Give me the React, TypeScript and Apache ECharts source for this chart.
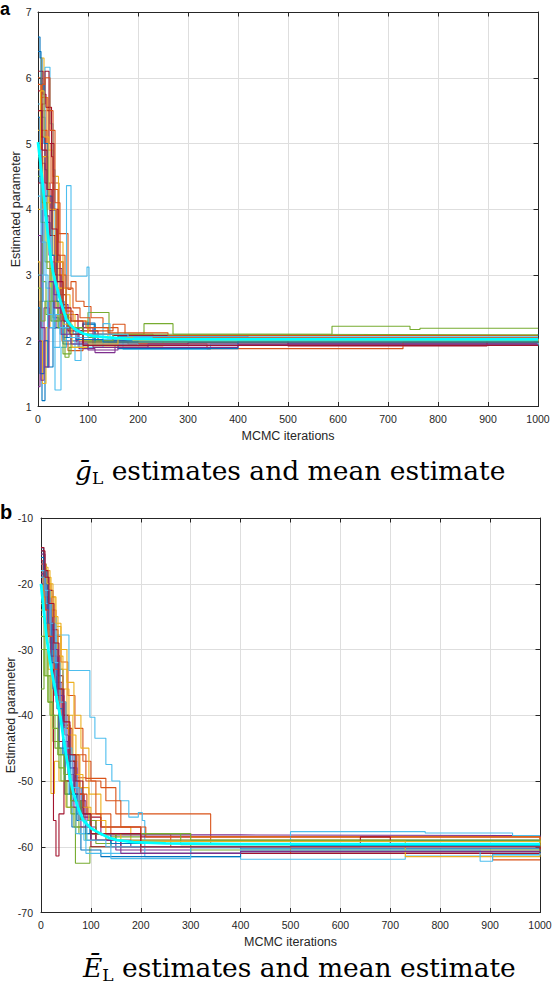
import React, { useEffect, useRef } from 'react';
import * as echarts from 'echarts';

// MATLAB default colour order
const traceColors = ['#0072BD', '#D95319', '#EDB120', '#7E2F8E', '#77AC30', '#4DBEEE', '#A2142F'];
const meanColor = '#00FFFF';

const xTickStep = 100;
const xMin = 0;
const xMax = 1000;
const gYMin = 1;
const gYMax = 7;
const eYMin = -70;
const eYMax = -10;

// ---- panel a : g_L estimates (x = iteration, y = estimate), stair-step traces ----
const gL01 = [[0, 6.62], [4, 6.3], [8, 5.4], [14, 4.6], [18, 3.8], [24, 2.9], [30, 2.35], [42, 2.2], [70, 2.1], [160, 2.06], [420, 2.08], [1000, 2.1]];
const gL02 = [[0, 5.9], [6, 5.5], [16, 5.0], [26, 4.4], [42, 3.63], [60, 2.78], [66, 2.9], [76, 2.6], [92, 2.52], [106, 2.35], [130, 2.2], [160, 2.05], [600, 2.03], [1000, 2.04]];
const gL03 = [[0, 5.2], [7, 6.3], [12, 5.7], [20, 4.9], [30, 4.5], [41, 3.5], [50, 2.7], [64, 2.3], [100, 2.1], [140, 1.97], [400, 1.95], [1000, 1.97]];
const gL04 = [[0, 1.3], [4, 2.6], [10, 4.2], [24, 3.98], [37, 3.1], [48, 2.55], [60, 2.2], [82, 1.88], [114, 1.82], [154, 1.93], [500, 1.96], [1000, 1.96]];
const gL05 = [[0, 4.5], [6, 3.8], [14, 3.2], [26, 2.6], [40, 2.3], [62, 2.1], [100, 2.43], [142, 2.1], [212, 2.26], [270, 2.1], [588, 2.22], [744, 2.17], [764, 2.19], [1000, 2.19]];
const gL06 = [[0, 5.6], [8, 5.2], [14, 6.16], [24, 5.3], [30, 4.6], [34, 1.25], [46, 1.9], [57, 4.36], [66, 2.98], [98, 3.12], [102, 2.25], [112, 2.02], [170, 1.87], [345, 1.95], [1000, 2.03]];
const gL07 = [[0, 6.1], [10, 5.75], [16, 5.55], [27, 4.8], [30, 4.0], [36, 3.3], [44, 2.7], [56, 2.4], [80, 2.15], [120, 2.0], [500, 1.92], [898, 2.01], [1000, 2.01]];
const gL08 = [[0, 5.4], [4, 4.4], [8, 1.09], [14, 1.6], [20, 2.6], [32, 2.2], [50, 1.95], [90, 2.25], [114, 2.0], [200, 2.03], [1000, 2.05]];
const gL09 = [[0, 4.8], [8, 5.2], [18, 4.3], [28, 3.6], [36, 2.5], [48, 2.0], [60, 1.85], [90, 1.98], [180, 1.95], [338, 1.88], [730, 1.98], [1000, 1.98]];
const gL10 = [[0, 3.2], [4, 2.0], [9, 1.35], [16, 2.2], [24, 3.2], [36, 2.8], [46, 2.35], [66, 2.0], [110, 1.92], [250, 2.0], [1000, 2.01]];
const gL11 = [[0, 5.0], [6, 4.7], [14, 3.9], [22, 3.3], [32, 2.7], [44, 2.3], [58, 2.05], [76, 1.98], [200, 2.05], [1000, 2.06]];
const gL12 = [[0, 3.6], [8, 2.9], [16, 2.4], [30, 2.3], [50, 1.8], [66, 2.05], [90, 2.0], [150, 2.08], [1000, 2.07]];
const gL13 = [[0, 4.2], [6, 3.5], [16, 2.8], [26, 2.3], [44, 2.1], [80, 1.9], [130, 2.26], [144, 2.05], [300, 2.0], [1000, 2.02]];
const gL14 = [[0, 5.8], [6, 5.1], [14, 4.4], [24, 3.6], [34, 3.0], [46, 2.4], [60, 2.15], [90, 1.95], [300, 1.97], [1000, 1.99]];
const gL15 = [[0, 2.5], [4, 1.5], [12, 2.0], [20, 1.6], [30, 2.2], [50, 2.05], [90, 2.27], [114, 1.93], [160, 1.88], [400, 2.0], [1000, 2.0]];
const gL16 = [[0, 6.0], [6, 5.7], [18, 5.5], [30, 4.3], [40, 3.3], [54, 2.8], [70, 2.5], [84, 2.35], [104, 2.15], [150, 2.25], [174, 2.1], [230, 2.05], [1000, 2.05]];
const gL17 = [[0, 4.0], [10, 4.8], [20, 4.1], [30, 3.3], [40, 2.8], [56, 2.4], [74, 2.2], [100, 2.05], [190, 2.0], [1000, 2.03]];
const gL18 = [[0, 2.0], [6, 1.4], [12, 2.5], [22, 2.2], [36, 2.4], [52, 2.0], [80, 2.2], [110, 1.9], [220, 1.95], [1000, 1.95]];
const gL19 = [[0, 4.8], [8, 4.1], [18, 3.1], [28, 2.6], [40, 2.2], [54, 1.75], [62, 1.9], [100, 1.98], [1000, 2.0]];
const gL20 = [[0, 3.0], [10, 2.6], [20, 2.2], [34, 2.4], [50, 2.0], [74, 1.7], [86, 1.95], [200, 1.93], [1000, 1.97]];
const gL21 = [[0, 4.4], [8, 5.6], [14, 6.1], [22, 5.0], [32, 4.0], [40, 3.2], [50, 2.5], [66, 2.3], [90, 2.1], [150, 2.08], [1000, 2.08]];
const gL22 = [[0, 6.4], [6, 5.9], [12, 5.0], [20, 4.2], [28, 3.3], [38, 2.6], [52, 2.2], [76, 2.02], [130, 1.98], [1000, 1.98]];
const gL23 = [[0, 5.5], [8, 5.9], [14, 6.0], [24, 5.2], [34, 4.1], [44, 3.0], [56, 2.45], [70, 2.3], [96, 2.2], [140, 2.12], [260, 2.08], [1000, 2.08]];
const gL24 = [[0, 4.6], [5, 5.8], [12, 5.1], [22, 4.0], [36, 3.2], [50, 2.25], [68, 1.9], [100, 1.95], [160, 2.02], [1000, 2.02]];
const gL25 = [[0, 3.6], [6, 2.2], [14, 1.6], [22, 2.9], [32, 2.5], [46, 2.1], [66, 1.95], [100, 1.86], [160, 1.9], [400, 1.94], [1000, 1.94]];
const gL26 = [[0, 2.8], [6, 2.3], [14, 2.6], [26, 2.3], [44, 2.4], [60, 2.2], [90, 2.05], [150, 2.1], [300, 2.09], [1000, 2.09]];
const gL27 = [[0, 4.9], [6, 4.0], [12, 3.0], [20, 2.4], [30, 1.9], [44, 2.2], [64, 2.05], [100, 2.1], [180, 2.06], [1000, 2.05]];
const gL28 = [[0, 5.5], [8, 4.9], [18, 4.3], [28, 3.7], [38, 2.9], [50, 2.3], [64, 2.1], [90, 1.93], [300, 1.93], [1000, 1.94]];
const gLMean = [[0, 5.02], [5, 4.7], [10, 4.34], [15, 3.95], [20, 3.6], [25, 3.3], [30, 3.05], [35, 2.88], [40, 2.75], [45, 2.6], [50, 2.48], [57, 2.32], [65, 2.24], [75, 2.17], [90, 2.11], [110, 2.07], [140, 2.05], [180, 2.03], [250, 2.02], [400, 2.02], [600, 2.02], [800, 2.02], [1000, 2.02]];

// ---- panel b : E_L estimates ----
const eL01 = [[0, -14.5], [5, -17], [10, -21], [18, -26], [26, -30], [34, -36], [44, -42], [56, -48], [66, -53], [80, -56], [100, -59], [140, -60], [400, -60.3], [1000, -60.5]];
const eL02 = [[0, -17], [10, -20], [20, -24], [30, -28], [40, -31.9], [54, -37], [68, -42], [84, -47], [100, -50], [120, -51], [150, -55], [340, -59.5], [1000, -59.8]];
const eL03 = [[0, -18], [8, -17.5], [14, -19], [20, -22], [30, -26.5], [40, -30], [52, -35], [66, -40], [80, -45], [96, -52], [120, -57], [180, -59], [1000, -60]];
const eL04 = [[0, -15.5], [8, -22], [16, -27], [26, -31], [38, -38], [48, -43], [58, -47], [72, -52], [86, -55], [100, -58], [150, -60.5], [300, -61], [1000, -60.2]];
const eL05 = [[0, -36], [6, -30], [12, -34], [22, -40], [34, -46], [46, -50], [60, -54], [69, -62.5], [98, -60], [140, -58.5], [200, -59], [1000, -59.5]];
const eL06 = [[0, -21], [15, -25], [30, -27.8], [56, -33.2], [98, -40.3], [108, -43.5], [130, -47.5], [142, -50], [158, -53], [176, -55.5], [195, -54.8], [203, -56], [208, -61.5], [400, -61.9], [730, -61.4], [1000, -61.4]];
const eL07 = [[0, -16], [6, -19], [14, -24], [20, -30], [28, -37], [36, -44], [48, -50], [60, -53], [80, -55.5], [120, -57], [200, -58.5], [700, -58.5], [1000, -59]];
const eL08 = [[0, -19], [6, -23], [14, -28], [24, -36], [36, -45], [48, -52], [62, -57], [80, -60.5], [120, -61.5], [400, -61], [1000, -60.8]];
const eL09 = [[0, -20], [10, -22], [20, -29], [30, -35], [44, -41.5], [58, -47], [70, -49.5], [90, -50], [110, -55], [140, -58], [260, -60], [500, -61], [905, -62], [1000, -62]];
const eL10 = [[0, -23], [6, -26], [14, -33], [20, -51.9], [27, -47], [36, -50], [50, -54], [70, -57], [100, -58], [300, -58.5], [1000, -59.3]];
const eL11 = [[0, -18.5], [8, -23], [18, -29], [28, -35], [40, -40], [52, -46], [64, -50], [78, -54], [94, -56], [120, -58.2], [400, -58.3], [1000, -58.5]];
const eL12 = [[0, -25], [6, -30], [14, -38], [24, -44], [36, -48], [48, -52], [60, -55], [76, -58], [110, -59.5], [300, -60.5], [1000, -60.8]];
const eL13 = [[0, -22], [8, -26], [18, -30], [30, -38], [44, -46], [56, -52], [70, -58], [90, -61], [140, -61.8], [300, -60.2], [500, -57.7], [770, -57.9], [945, -58.3], [1000, -58.3]];
const eL14 = [[0, -16.5], [4, -22], [12, -28], [20, -33], [25, -56], [30, -61.4], [36, -55], [46, -50], [60, -52], [76, -56], [100, -60], [200, -61], [1000, -61.2]];
const eL15 = [[0, -15], [6, -18], [12, -23], [22, -28], [30, -33], [44, -40], [56, -46], [68, -51], [82, -55], [98, -58], [130, -59], [1000, -59.1]];
const eL16 = [[0, -21], [10, -24], [22, -30], [32, -36], [42, -42], [56, -47], [72, -46], [90, -49.6], [130, -53], [160, -57], [210, -58.5], [1000, -58.8]];
const eL17 = [[0, -17], [10, -18], [18, -22], [28, -26], [40, -33], [52, -40], [64, -46], [78, -51], [96, -56], [130, -59], [730, -61.5], [1000, -61]];
const eL18 = [[0, -20], [10, -24], [20, -31], [32, -37], [46, -42], [58, -48], [72, -53], [90, -57], [110, -59], [180, -60], [1000, -59.8]];
const eL19 = [[0, -28], [8, -34], [18, -40], [28, -45], [40, -50], [52, -54], [66, -57], [90, -59], [150, -58], [280, -59.7], [1000, -60.2]];
const eL20 = [[0, -19], [10, -23], [20, -28], [32, -34], [44, -42], [58, -49], [72, -55], [86, -59], [140, -61], [400, -60.5], [880, -62.2], [905, -61.2], [1000, -61]];
const eL21 = [[0, -14.5], [6, -18], [14, -21], [24, -27], [34, -34], [44, -40], [56, -47], [68, -52], [86, -56], [110, -59], [160, -60], [640, -58.5], [700, -59.5], [1000, -59.6]];
const eL22 = [[0, -16], [6, -20], [14, -26], [22, -32], [32, -39], [44, -46], [58, -52], [72, -56], [90, -58], [140, -59.5], [500, -59.8], [1000, -59.9]];
const eL23 = [[0, -22], [8, -24], [16, -28], [26, -33], [36, -38], [50, -42], [62, -46], [76, -52], [92, -55], [120, -57], [200, -60], [1000, -60.4]];
const eL24 = [[0, -24], [6, -19], [12, -20], [24, -25], [34, -31], [44, -36], [56, -43], [70, -49], [84, -54], [100, -58], [160, -59.2], [1000, -59.4]];
const eL25 = [[0, -17], [8, -21], [16, -26], [24, -30], [34, -37], [44, -44], [54, -49], [66, -54], [80, -57], [100, -59], [160, -61], [400, -60.7], [1000, -60.7]];
const eL26 = [[0, -30], [6, -34], [14, -38], [24, -42], [34, -46], [46, -49], [60, -53], [80, -56], [110, -58], [200, -58], [300, -59], [1000, -59.2]];
const eL27 = [[0, -18], [8, -21], [18, -26], [28, -32], [38, -38], [50, -45], [62, -51], [76, -56], [92, -59], [130, -60], [1000, -60.1]];
const eL28 = [[0, -15], [8, -19], [16, -23], [26, -29], [36, -36], [46, -41], [58, -46], [70, -50], [84, -55], [100, -58], [200, -60], [1000, -60.3]];
const eLMean = [[0, -20], [6, -24.5], [12, -28.6], [18, -31.8], [25, -34.7], [32, -37.6], [39, -40.3], [45, -43.5], [52, -46.8], [58, -49.5], [65, -51.9], [75, -54.2], [85, -56], [100, -57.2], [119, -58], [135, -58.6], [152, -59], [185, -59.3], [250, -59.5], [400, -59.6], [600, -59.6], [800, -59.6], [1000, -59.6]];

const gLTraces = [gL01, gL02, gL03, gL04, gL05, gL06, gL07, gL08, gL09, gL10, gL11, gL12, gL13, gL14, gL15, gL16, gL17, gL18, gL19, gL20, gL21, gL22, gL23, gL24, gL25, gL26, gL27, gL28];
const eLTraces = [eL01, eL02, eL03, eL04, eL05, eL06, eL07, eL08, eL09, eL10, eL11, eL12, eL13, eL14, eL15, eL16, eL17, eL18, eL19, eL20, eL21, eL22, eL23, eL24, eL25, eL26, eL27, eL28];

const axisName = 'Estimated parameter';
const xName = 'MCMC iterations';

const INK = '#262626';
const GRIDC = '#dedede';
const SANS = '"Liberation Sans", Arial, Helvetica, sans-serif';
const SERIF = '"DejaVu Serif", "Liberation Serif", serif';

const plainNum = (v: number) => String(v);

function xAxisCfg(gridIndex: number, main: boolean) {
  return {
    type: 'value',
    gridIndex,
    position: main ? 'bottom' : 'top',
    min: xMin,
    max: xMax,
    interval: xTickStep,
    name: main ? xName : '',
    nameLocation: 'middle',
    nameGap: 23,
    nameMoveOverlap: false,
    nameTextStyle: { fontSize: 12.5, color: INK, fontFamily: SANS },
    axisLine: { show: true, onZero: false, lineStyle: { color: INK, width: 1 } },
    axisTick: { show: true, inside: true, length: 4.5, lineStyle: { color: INK, width: 1 } },
    axisLabel: { show: main, fontSize: 10.5, color: INK, fontFamily: SANS, margin: 7, formatter: plainNum },
    splitLine: { show: main, lineStyle: { color: GRIDC, width: 1 } },
  };
}

function yAxisCfg(gridIndex: number, main: boolean, min: number, max: number, interval: number, gap: number, margin: number) {
  return {
    type: 'value',
    gridIndex,
    position: main ? 'left' : 'right',
    min,
    max,
    interval,
    name: main ? axisName : '',
    nameLocation: 'middle',
    nameGap: gap,
    nameMoveOverlap: false,
    nameTextStyle: { fontSize: 12.5, color: INK, fontFamily: SANS },
    axisLine: { show: true, onZero: false, lineStyle: { color: INK, width: 1 } },
    axisTick: { show: true, inside: true, length: 4.5, lineStyle: { color: INK, width: 1 } },
    axisLabel: { show: main, fontSize: 10.5, color: INK, fontFamily: SANS, margin, formatter: plainNum },
    splitLine: { show: main, lineStyle: { color: GRIDC, width: 1 } },
  };
}

function traceSeries(data: number[][], i: number, axisIdx: number) {
  const c = traceColors[i % traceColors.length];
  return {
    type: 'line',
    step: 'end',
    data,
    xAxisIndex: axisIdx,
    yAxisIndex: axisIdx,
    showSymbol: false,
    symbol: 'none',
    silent: true,
    lineStyle: { width: 1.1, color: c },
    itemStyle: { color: c },
  };
}

function meanSeries(data: number[][], axisIdx: number) {
  return {
    type: 'line',
    data,
    xAxisIndex: axisIdx,
    yAxisIndex: axisIdx,
    showSymbol: false,
    symbol: 'none',
    silent: true,
    z: 5,
    lineStyle: { width: 2.8, color: meanColor },
    itemStyle: { color: meanColor },
  };
}

function titleRich(letter: string) {
  return {
    text: `{v|${letter}}{s|L}{t| estimates and mean estimate}`,
    fill: '#000',
    rich: {
      v: { fontFamily: SERIF, fontStyle: 'italic', fontSize: 26.5, lineHeight: 32, verticalAlign: 'middle', fill: '#000' },
      s: { fontFamily: SERIF, fontSize: 17, lineHeight: 17, verticalAlign: 'bottom', fill: '#000' },
      t: { fontFamily: SERIF, fontSize: 26.5, lineHeight: 32, verticalAlign: 'middle', fill: '#000' },
    },
  };
}

export default function App() {
  const ref = useRef<HTMLDivElement>(null);
  useEffect(() => {
    document.body.style.margin = '0';
    const chart = echarts.init(ref.current as HTMLDivElement, null, { renderer: 'svg' });
    const series: any[] = [];
    gLTraces.forEach((t, i) => series.push(traceSeries(t, i, 0)));
    series.push(meanSeries(gLMean, 0));
    eLTraces.forEach((t, i) => series.push(traceSeries(t, i, 2)));
    series.push(meanSeries(eLMean, 2));

    const option: any = {
      animation: false,
      backgroundColor: '#ffffff',
      grid: [
        { left: 38, top: 12, width: 500, height: 394.5, outerBoundsMode: 'none', containLabel: false },
        { left: 41, top: 518, width: 499, height: 394.5, outerBoundsMode: 'none', containLabel: false },
      ],
      xAxis: [xAxisCfg(0, true), xAxisCfg(0, false), xAxisCfg(1, true), xAxisCfg(1, false)],
      yAxis: [
        yAxisCfg(0, true, gYMin, gYMax, 1, 16, 6.5),
        yAxisCfg(0, false, gYMin, gYMax, 1, 16, 6.5),
        yAxisCfg(1, true, eYMin, eYMax, 10, 24, 8),
        yAxisCfg(1, false, eYMin, eYMax, 10, 24, 8),
      ],
      series,
      graphic: [
        { type: 'text', x: 0, y: 0, style: { text: 'a', fontFamily: SANS, fontWeight: 'bold', fontSize: 18, fill: '#000', verticalAlign: 'top' } },
        { type: 'text', x: 0, y: 511.5, style: { text: 'b', fontFamily: SANS, fontWeight: 'bold', fontSize: 20, fill: '#000', verticalAlign: 'middle' } },
        { type: 'text', x: 75, y: 470, style: { ...titleRich('ḡ'), align: 'left', verticalAlign: 'middle' } },
        { type: 'text', x: 83, y: 967, style: { ...titleRich('Ē'), align: 'left', verticalAlign: 'middle' } },
      ],
    };
    chart.setOption(option);
    return () => chart.dispose();
  }, []);
  return <div ref={ref} style={{ width: 552, height: 985 }} />;
}
